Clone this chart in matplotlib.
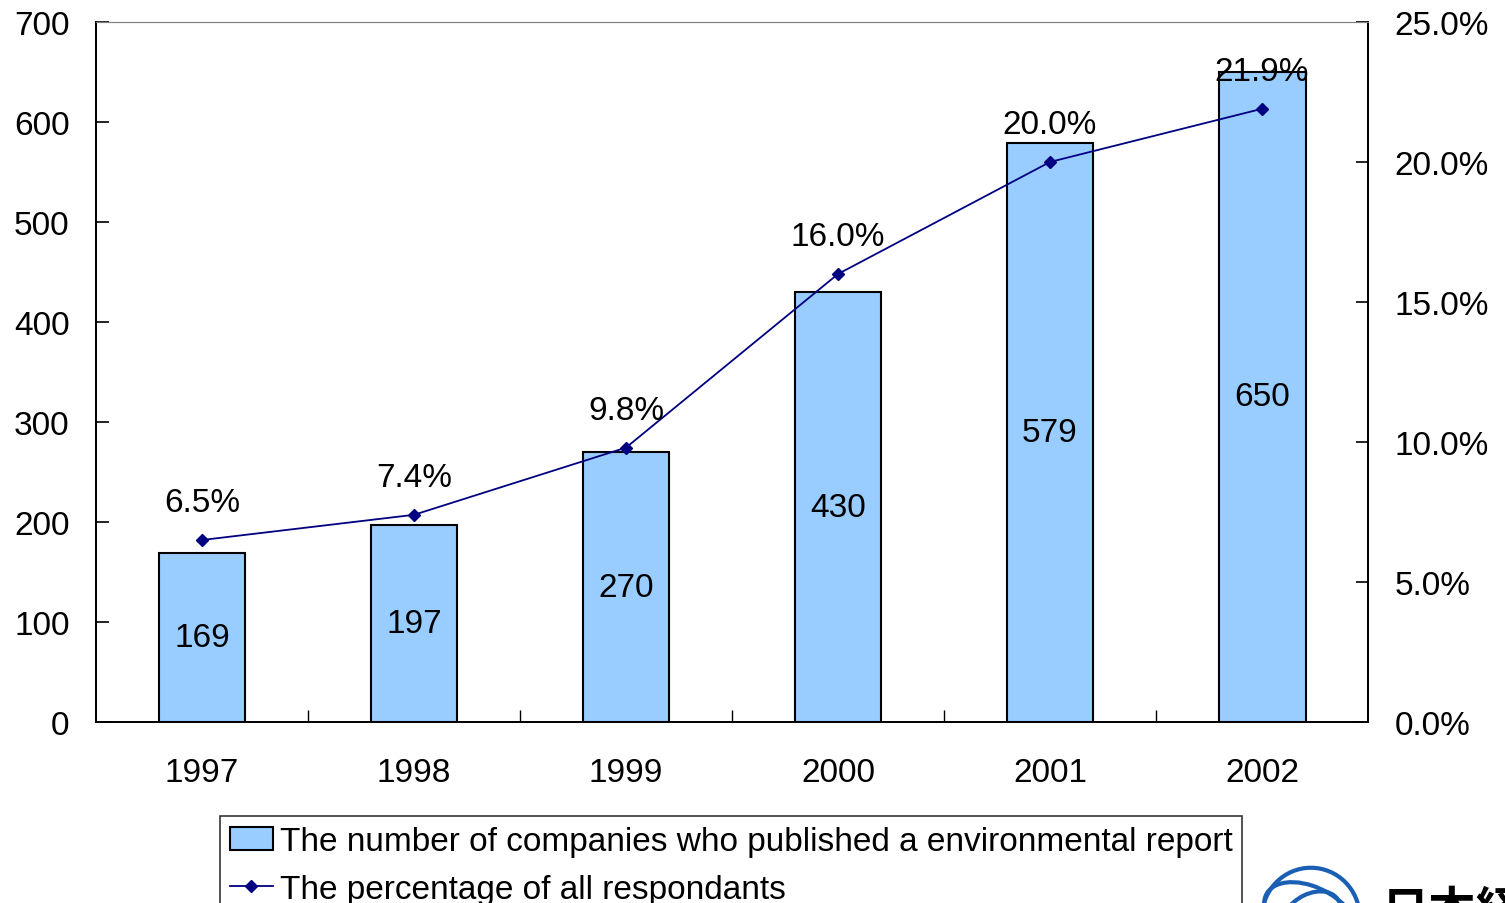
import numpy as np
import matplotlib.pyplot as plt
from matplotlib.patches import Ellipse

plt.rcParams['font.family'] = ['Liberation Sans', 'Noto Sans CJK JP', 'DejaVu Sans']

years = ["1997", "1998", "1999", "2000", "2001", "2002"]
companies = [169, 197, 270, 430, 579, 650]
percentage = [6.5, 7.4, 9.8, 16.0, 20.0, 21.9]

fig = plt.figure(figsize=(15.05, 9.04), dpi=100)
ax1 = fig.add_axes([0.0638, 0.2002, 0.8452, 0.7744])
ax2 = ax1.twinx()

x = np.arange(len(years))
bars = ax1.bar(x, companies, width=0.41, color="#99ccff", edgecolor="black", linewidth=1.5,
               label="The number of companies who published a environmental report")
for xi, v in zip(x, companies):
    ax1.text(xi, v / 2, str(v), ha="center", va="center", fontsize=24)

line, = ax2.plot(x, percentage, color="#000080", marker="D", markersize=6.5, linewidth=1.3,
                 label="The percentage of all respondants")
for xi, p in zip(x, percentage):
    ax2.annotate(f"{p:.1f}%", (xi, p), xytext=(0, 27), textcoords="offset points",
                 ha="center", va="center", fontsize=24)

ax1.set_xlim(-0.5, len(years) - 0.5)
ax1.set_ylim(0, 700)
ax1.set_yticks(range(0, 701, 100))
ax2.set_ylim(0, 25)
ax2.set_yticks(np.arange(0, 25.1, 5))
ax2.set_yticklabels([f"{t:.1f}%" for t in np.arange(0, 25.1, 5)])

# category ticks between the bars, labels centred under them
ax1.set_xticks(np.arange(0.5, len(years) - 0.5, 1))
ax1.set_xticklabels([])
ax1.set_xticks(x, minor=True)
ax1.set_xticklabels(years, minor=True, fontsize=24)
ax1.tick_params(axis="x", which="major", direction="in", length=9, width=1)
ax1.tick_params(axis="x", which="minor", length=0, pad=25)
ax1.tick_params(axis="y", direction="in", length=9, width=1.2, labelsize=24, pad=19)
ax2.tick_params(axis="y", direction="in", length=9, width=1.2, labelsize=24, pad=19)

for a in (ax1, ax2):
    a.spines["top"].set_color("#808080")
    a.spines["left"].set_linewidth(1.3)
    a.spines["right"].set_linewidth(1.3)
    a.spines["bottom"].set_linewidth(1.3)

leg = fig.legend(handles=[bars, line], loc="upper left", bbox_to_anchor=(0.146, 0.0962),
                 fontsize=24, frameon=True, fancybox=False, edgecolor="black",
                 handlelength=1.3, handletextpad=0.2, borderpad=0.3, labelspacing=0.5,
                 borderaxespad=0)
leg.get_frame().set_linewidth(1.2)

# partial logo in the corner
for w, h, ang in [(0.065, 0.11, 0), (0.052, 0.085, 30), (0.036, 0.06, -20)]:
    fig.patches.append(Ellipse((0.871, -0.016), w, h, angle=ang, fill=False,
                               edgecolor="#1a5fb4", linewidth=3, transform=fig.transFigure))
fig.text(0.918, -0.035, "日本経", fontsize=34, fontweight="bold", ha="left", va="bottom",
         family=["Noto Sans CJK JP"])

fig.savefig("out.png", dpi=100)
